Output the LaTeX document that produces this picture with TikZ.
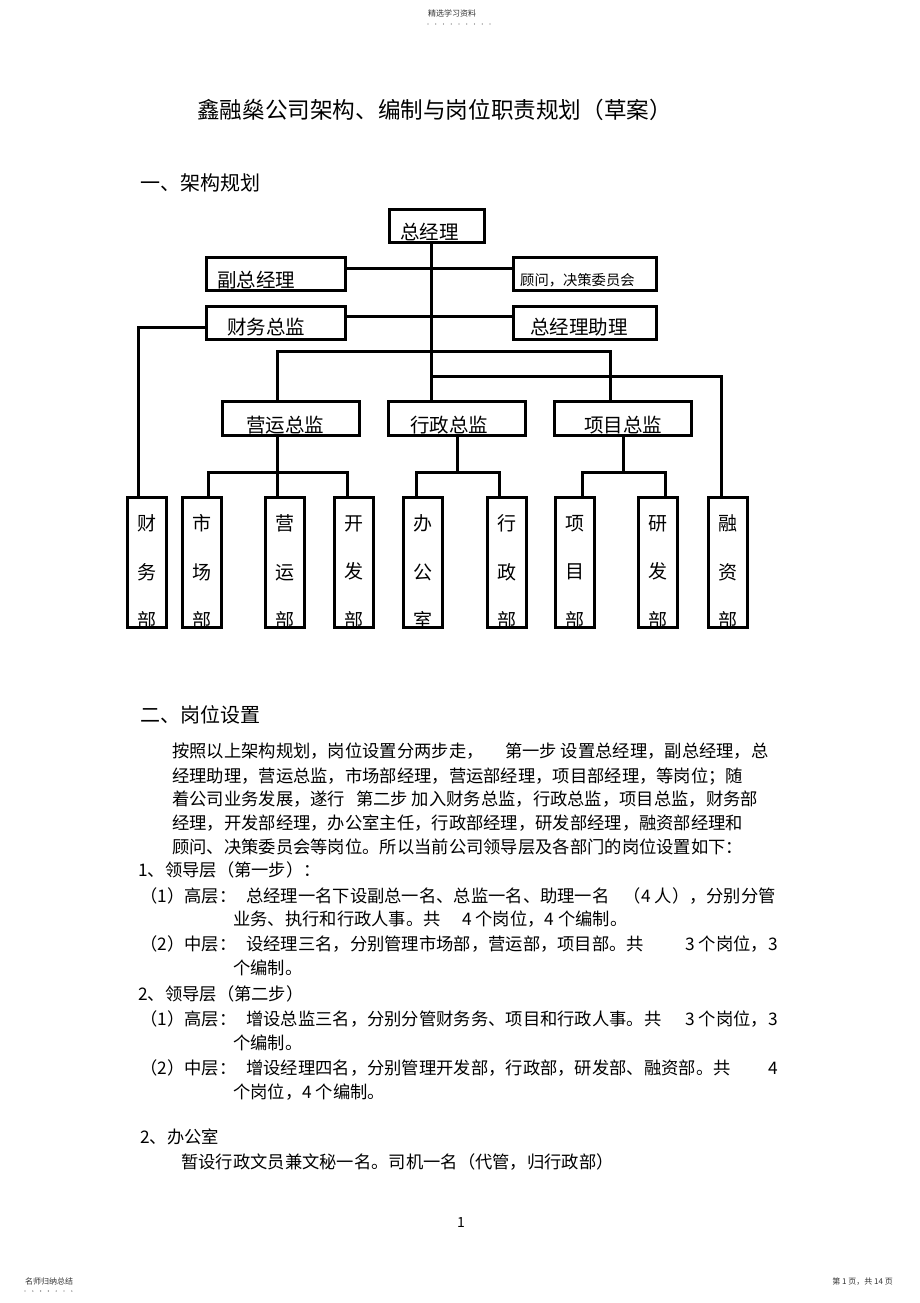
\documentclass[tikz,border=0pt]{standalone}
\usepackage{fontspec}
\setmainfont{Noto Sans CJK SC}
\begin{document}
\begin{tikzpicture}[x=1pt,y=-1pt,
  box/.style={draw, line width=3pt, inner sep=0pt},
  conn/.style={line width=3pt, line join=miter},
  txt/.style={anchor=west, inner sep=0pt, text height=0.7em, text depth=0.3em},
  body/.style={txt, yshift=-3.5pt, font=\fontsize{17.3}{20}\selectfont},
  rbody/.style={body, anchor=east},
  head/.style={txt, yshift=-5pt, font=\fontsize{20}{22}\selectfont},
  lbl/.style={txt, yshift=-5.5pt, font=\fontsize{19.5}{22}\selectfont},
  vlbl/.style={inner sep=0pt, align=center, font=\fontsize{19}{48.5}\selectfont},
  small/.style={txt, yshift=-1pt, font=\fontsize{8}{9}\selectfont, text=black!80},
  dotc/.style={fill=black!60},
]
\useasboundingbox (0,0) rectangle (920,1303);

% header
\node[small] (hd) at (428,14) {精选学习资料};
\foreach \i in {0,...,8} \fill[dotc] (428+\i*7.75,24) circle (0.7);

% title and section heads
\node[txt, yshift=-7pt, font=\fontsize{22.6}{24}\selectfont] (title) at (197,110) {鑫融燊公司架构、编制与岗位职责规划（草案）};
\node[head] (sec1) at (140,183) {一、架构规划};

% ---- org chart boxes ----
\node[box, minimum width=95pt, minimum height=33pt] (zjl) at (437,226) {};
\node[box, minimum width=139pt, minimum height=33pt] (fzjl) at (276,274) {};
\node[box, minimum width=143pt, minimum height=33pt] (gw) at (585,274) {};
\node[box, minimum width=139pt, minimum height=33pt] (cwzj) at (276,323) {};
\node[box, minimum width=143pt, minimum height=33pt] (zjlzl) at (585,323) {};
\node[box, minimum width=137pt, minimum height=34pt] (yyzj) at (291,418.5) {};
\node[box, minimum width=137pt, minimum height=34pt] (xzzj) at (457,418.5) {};
\node[box, minimum width=137pt, minimum height=34pt] (xmzj) at (623,418.5) {};

\node[lbl] (zjl-t) at (400,232) {总经理};
\node[lbl] (fzjl-t) at (217,280) {副总经理};
\node[txt, yshift=-4.5pt, font=\fontsize{14.3}{16}\selectfont] (gw-t) at (520,279) {顾问，决策委员会};
\node[lbl] (cwzj-t) at (227,327) {财务总监};
\node[lbl] (zjlzl-t) at (530,327) {总经理助理};
\node[lbl] (yyzj-t) at (246,425) {营运总监};
\node[lbl] (xzzj-t) at (410,425) {行政总监};
\node[lbl] (xmzj-t) at (584,425) {项目总监};

% bottom departments
\foreach \n/\x/\t in {cwb/147/{财\\务\\部}, scb/201.5/{市\\场\\部}, yyb/285/{营\\运\\部},
  kfb/353.5/{开\\发\\部}, bgs/423/{办\\公\\室}, xzb/506.5/{行\\政\\部},
  xmb/574.5/{项\\目\\部}, yfb/657.5/{研\\发\\部}, rzb/727.5/{融\\资\\部}}{
  \node[box, minimum width=39pt, minimum height=130pt] (\n) at (\x,562.5) {};
  \node[vlbl] (\n-t) at (\x,572) {\t};
}

% ---- connectors ----
\coordinate (j0) at (431,268);
\coordinate (j1) at (431,316);
\draw[conn] (zjl.south -| j0) -- (j0 |- xzzj.north);
\draw[conn] (fzjl.east |- j0) -- (gw.west |- j0);
\draw[conn] (cwzj.east |- j1) -- (zjlzl.west |- j1);
\coordinate (k0) at (138,327);
\draw[conn] (cwzj.west |- k0) -- (k0) -- (k0 |- cwb.north);
\coordinate (j2) at (277,351);
\coordinate (j3) at (610,351);
\draw[conn] (j2 |- yyzj.north) -- (j2) -- (j3) -- (j3 |- xmzj.north);
\coordinate (j4) at (431,376);
\coordinate (j5) at (721,376);
\draw[conn] (j4) -- (j5) -- (j5 |- rzb.north);

\coordinate (a1) at (208,472);
\coordinate (a2) at (277,472);
\coordinate (a3) at (347,472);
\draw[conn] (a1 |- scb.north) -- (a1) -- (a3) -- (a3 |- kfb.north);
\draw[conn] (a2 |- yyzj.south) -- (a2 |- yyb.north);
\coordinate (b1) at (416,472);
\coordinate (b3) at (499,472);
\draw[conn] (b1 |- bgs.north) -- (b1) -- (b3) -- (b3 |- xzb.north);
\draw[conn] (xzzj.south) -- (xzzj.south |- b1);
\coordinate (p1) at (582,472);
\coordinate (p3) at (665,472);
\draw[conn] (p1 |- xmb.north) -- (p1) -- (p3) -- (p3 |- yfb.north);
\draw[conn] (xmzj.south) -- (xmzj.south |- p1);

% ---- section 2 ----
\node[head] (sec2) at (140,715) {二、岗位设置};
\node[body] (l1a) at (172,752) {按照以上架构规划，岗位设置分两步走，};
\node[body] (l1b) at (505,752) {第一步 设置总经理，副总经理，总};
\node[body] (l2) at (172,777) {经理助理，营运总监，市场部经理，营运部经理，项目部经理，等岗位；随};
\node[body] (l3a) at (172,800) {着公司业务发展，遂行};
\node[body] (l3b) at (356,800) {第二步 加入财务总监，行政总监，项目总监，财务部};
\node[body] (l4) at (172,824) {经理，开发部经理，办公室主任，行政部经理，研发部经理，融资部经理和};
\node[body] (l5) at (172,848) {顾问、决策委员会等岗位。所以当前公司领导层及各部门的岗位设置如下：};

\node[body] (s1) at (138,871) {1、领导层（第一步）：};
\node[body] (s2a) at (140,897) {（1）高层：};
\node[body] (s2b) at (246,897) {总经理一名下设副总一名、总监一名、助理一名};
\node[rbody] (s2c) at (776,897) {（4 人），分别分管};
\node[body] (s3a) at (233,920) {业务、执行和行政人事。共};
\node[body] (s3b) at (462,920) {4 个岗位，4 个编制。};
\node[body] (s4a) at (140,945) {（2）中层：};
\node[body] (s4b) at (246,945) {设经理三名，分别管理市场部，营运部，项目部。共};
\node[rbody] (s4c) at (778,945) {3 个岗位，3};
\node[body] (s5) at (233,969) {个编制。};
\node[body] (s6) at (138,995) {2、领导层（第二步）};
\node[body] (s7a) at (140,1020) {（1）高层：};
\node[body] (s7b) at (246,1020) {增设总监三名，分别分管财务务、项目和行政人事。共};
\node[rbody] (s7c) at (778,1020) {3 个岗位，3};
\node[body] (s8) at (233,1044) {个编制。};
\node[body] (s9a) at (140,1069) {（2）中层：};
\node[body] (s9b) at (246,1069) {增设经理四名，分别管理开发部，行政部，研发部、融资部。共};
\node[rbody] (s9c) at (778,1069) {4};
\node[body] (s10) at (233,1093) {个岗位，4 个编制。};

\node[body] (s11) at (140,1138) {2、办公室};
\node[body] (s12) at (181,1163) {暂设行政文员兼文秘一名。司机一名（代管，归行政部）};

% page number and footer
\node[txt, yshift=-4pt, font=\fontsize{14}{16}\selectfont] (pg) at (457,1221) {1};
\node[small] (ftl) at (25,1281) {名师归纳总结};
\foreach \i in {0,...,6} \fill[dotc] (25+\i*7.8,1291) circle (0.7);
\node[small, anchor=east] (ftr) at (893,1281) {第 1 页，共 14 页};
\end{tikzpicture}
\end{document}
